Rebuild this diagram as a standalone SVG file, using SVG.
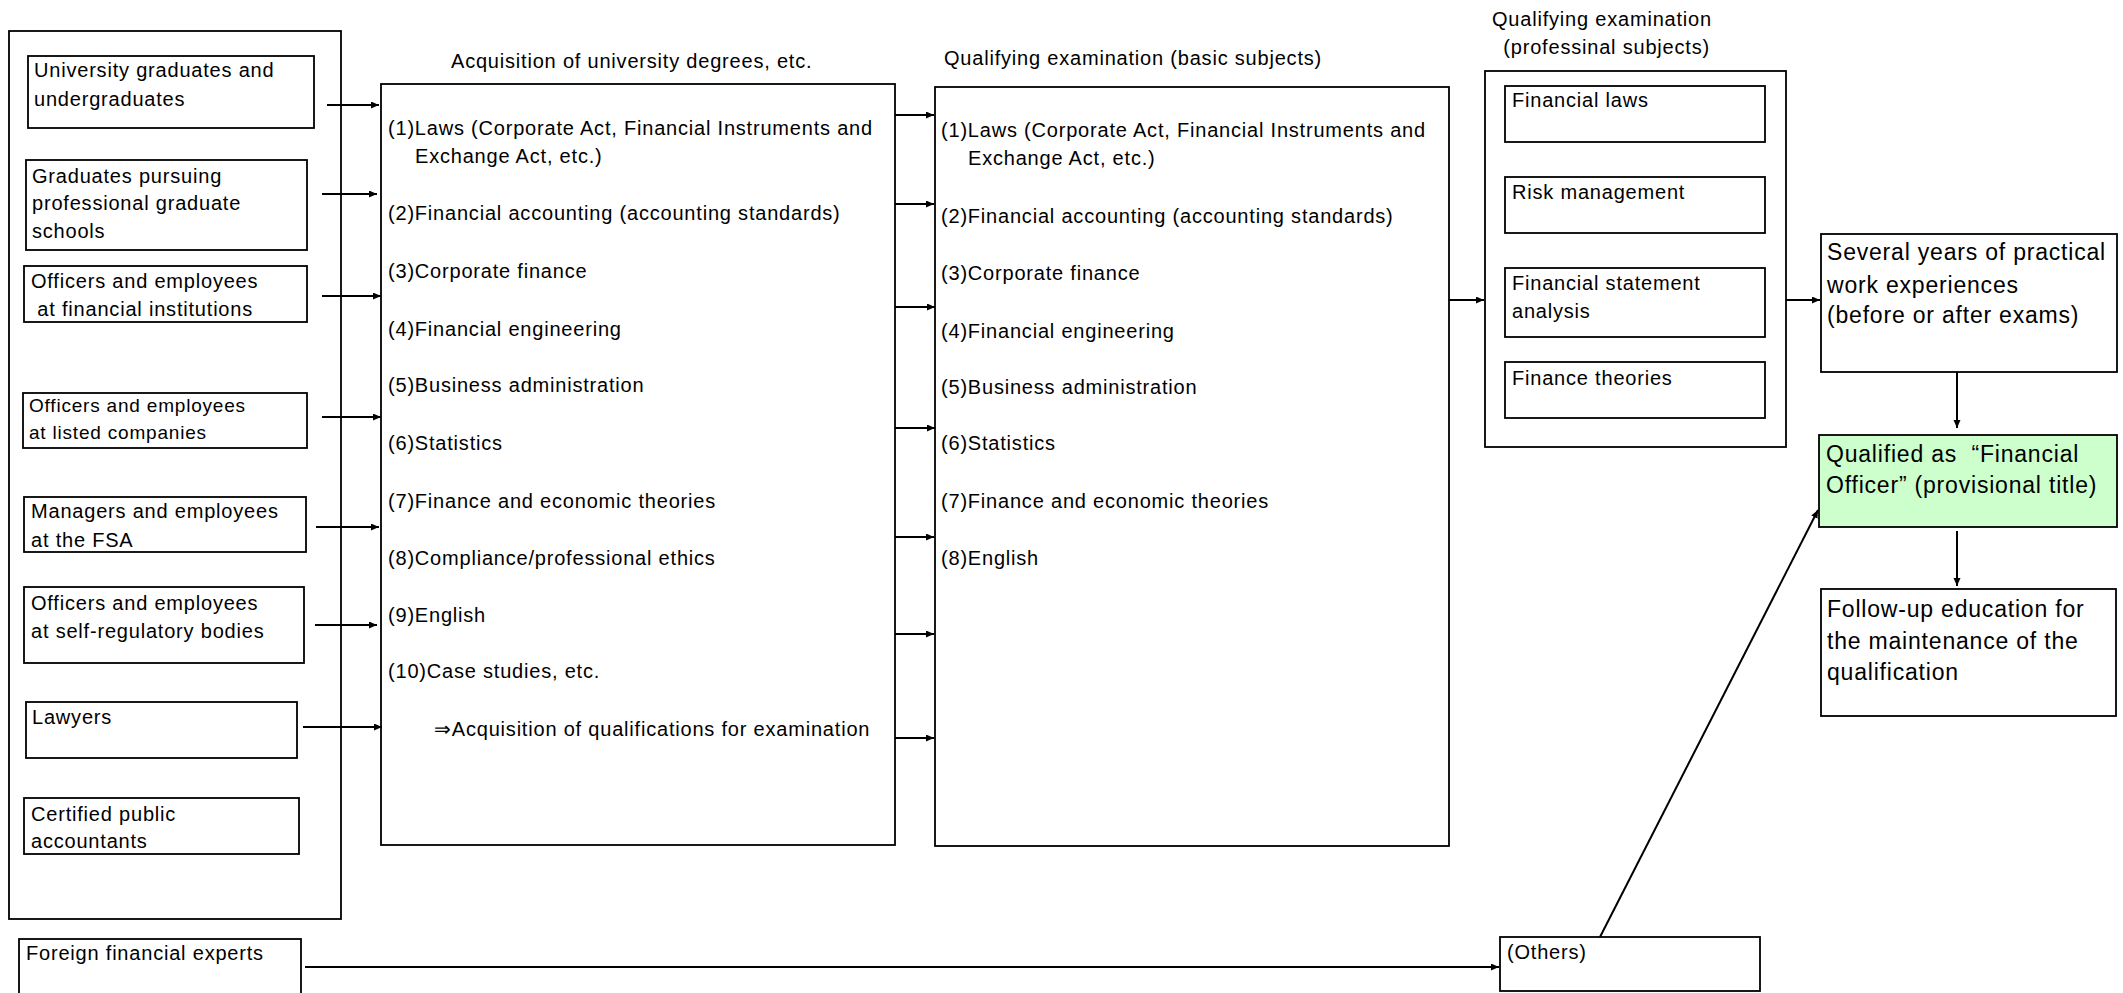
<svg xmlns="http://www.w3.org/2000/svg" width="2123" height="993" viewBox="0 0 2123 993">
<style>
text{font-family:"Liberation Sans",Arial,sans-serif;font-size:20px;letter-spacing:0.8px;fill:#000;white-space:pre}
.s19{font-size:19px}
.big{font-size:23px}
rect{fill:#fff;stroke:#000;stroke-width:1.8}
rect.bg{stroke:none}
.green{fill:#ccffcc}
.conn line{stroke:#000;stroke-width:2;marker-end:url(#ah)}
</style>
<defs>
<marker id="ah" markerUnits="userSpaceOnUse" markerWidth="9" markerHeight="8" refX="8" refY="3.5" orient="auto">
<path d="M0,0 L8,3.5 L0,7 z" fill="#000"/>
</marker>
</defs>
<rect class="bg" width="2123" height="993"/>

<g id="sources">
<rect x="9" y="31" width="332" height="888"/>
<g id="n-univ"><rect x="28" y="56" width="286" height="72"/><text x="34" y="77">University graduates and</text><text x="34" y="106">undergraduates</text></g>
<g id="n-grad"><rect x="26" y="160" width="281" height="90"/><text x="32" y="183">Graduates pursuing</text><text x="32" y="210">professional graduate</text><text x="32" y="238">schools</text></g>
<g id="n-fin"><rect x="24" y="266" width="283" height="56"/><text x="31" y="288">Officers and employees</text><text x="31" y="316"> at financial institutions</text></g>
<g id="n-listed"><rect x="23" y="393" width="284" height="55"/><text class="s19" x="29" y="412">Officers and employees</text><text class="s19" x="29" y="439">at listed companies</text></g>
<g id="n-fsa"><rect x="24" y="497" width="282" height="55"/><text x="31" y="518">Managers and employees</text><text x="31" y="547">at the FSA</text></g>
<g id="n-srb"><rect x="24" y="587" width="280" height="76"/><text x="31" y="610">Officers and employees</text><text x="31" y="638">at self-regulatory bodies</text></g>
<g id="n-law"><rect x="26" y="702" width="271" height="56"/><text x="32" y="724">Lawyers</text></g>
<g id="n-cpa"><rect x="24" y="798" width="275" height="56"/><text x="31" y="821">Certified public</text><text x="31" y="848">accountants</text></g>
</g>
<g id="n-foreign"><rect x="19" y="939" width="282" height="60"/><text x="26" y="960">Foreign financial experts</text></g>

<g id="n-degrees">
<text x="451" y="68">Acquisition of university degrees, etc.</text>
<rect x="381" y="84" width="514" height="761"/>
<text x="388" y="135">(1)Laws (Corporate Act, Financial Instruments and</text>
<text x="415" y="163">Exchange Act, etc.)</text>
<text x="388" y="220">(2)Financial accounting (accounting standards)</text>
<text x="388" y="278">(3)Corporate finance</text>
<text x="388" y="336">(4)Financial engineering</text>
<text x="388" y="392">(5)Business administration</text>
<text x="388" y="450">(6)Statistics</text>
<text x="388" y="508">(7)Finance and economic theories</text>
<text x="388" y="565">(8)Compliance/professional ethics</text>
<text x="388" y="622">(9)English</text>
<text x="388" y="678">(10)Case studies, etc.</text>
<text x="434" y="736">⇒Acquisition of qualifications for examination</text>
</g>

<g id="n-basic">
<text x="944" y="65">Qualifying examination (basic subjects)</text>
<rect x="935" y="87" width="514" height="759"/>
<text x="941" y="137">(1)Laws (Corporate Act, Financial Instruments and</text>
<text x="968" y="165">Exchange Act, etc.)</text>
<text x="941" y="223">(2)Financial accounting (accounting standards)</text>
<text x="941" y="280">(3)Corporate finance</text>
<text x="941" y="338">(4)Financial engineering</text>
<text x="941" y="394">(5)Business administration</text>
<text x="941" y="450">(6)Statistics</text>
<text x="941" y="508">(7)Finance and economic theories</text>
<text x="941" y="565">(8)English</text>
</g>

<g id="n-prof">
<text x="1492" y="26">Qualifying examination</text>
<text x="1497" y="54"> (professinal subjects)</text>
<rect x="1485" y="71" width="301" height="376"/>
<g id="n-finlaws"><rect x="1505" y="86" width="260" height="56"/><text x="1512" y="107">Financial laws</text></g>
<g id="n-risk"><rect x="1505" y="177" width="260" height="56"/><text x="1512" y="199">Risk management</text></g>
<g id="n-fsa2"><rect x="1505" y="268" width="260" height="69"/><text x="1512" y="290">Financial statement</text><text x="1512" y="318">analysis</text></g>
<g id="n-theory"><rect x="1505" y="362" width="260" height="56"/><text x="1512" y="385">Finance theories</text></g>
</g>

<g id="n-several"><rect x="1821" y="234" width="296" height="138"/><text class="big" x="1827" y="260">Several years of practical</text><text class="big" x="1827" y="293">work experiences</text><text class="big" x="1827" y="323">(before or after exams)</text></g>
<g id="n-qualified"><rect class="green" x="1819" y="435" width="298" height="92"/><text class="big" x="1826" y="462">Qualified as  “Financial</text><text class="big" x="1826" y="493">Officer” (provisional title)</text></g>
<g id="n-follow"><rect x="1821" y="589" width="295" height="127"/><text class="big" x="1827" y="617">Follow-up education for</text><text class="big" x="1827" y="649">the maintenance of the</text><text class="big" x="1827" y="680">qualification</text></g>
<g id="n-others"><rect x="1500" y="937" width="260" height="54"/><text x="1507" y="959">(Others)</text></g>

<g id="connectors" class="conn">
<line x1="327" y1="105" x2="379" y2="105"/>
<line x1="322" y1="194" x2="377" y2="194"/>
<line x1="322" y1="296" x2="381" y2="296"/>
<line x1="322" y1="417" x2="381" y2="417"/>
<line x1="316" y1="527" x2="379" y2="527"/>
<line x1="315" y1="625" x2="377" y2="625"/>
<line x1="303" y1="727" x2="382" y2="727"/>
<line x1="895" y1="115" x2="934" y2="115"/>
<line x1="895" y1="204" x2="934" y2="204"/>
<line x1="895" y1="307" x2="935" y2="307"/>
<line x1="895" y1="428" x2="935" y2="428"/>
<line x1="895" y1="537" x2="934" y2="537"/>
<line x1="895" y1="634" x2="934" y2="634"/>
<line x1="895" y1="738" x2="934" y2="738"/>
<line x1="1449" y1="300" x2="1484" y2="300"/>
<line x1="1786" y1="300" x2="1820" y2="300"/>
<line x1="1957" y1="372" x2="1957" y2="428"/>
<line x1="1957" y1="531" x2="1957" y2="586"/>
<line x1="305" y1="967" x2="1499" y2="967"/>
<line x1="1600" y1="937" x2="1818" y2="510"/>
</g>
</svg>
